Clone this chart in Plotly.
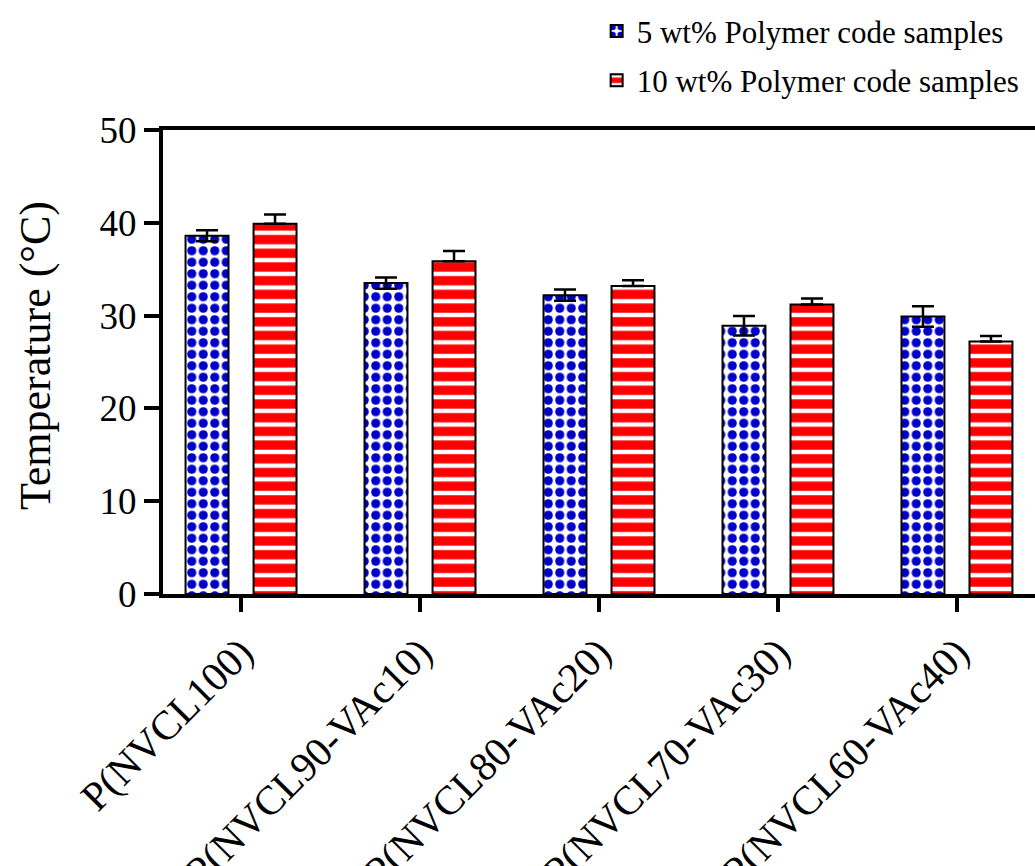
import plotly.graph_objects as go

categories = ["P(NVCL100)", "P(NVCL90-VAc10)", "P(NVCL80-VAc20)", "P(NVCL70-VAc30)", "P(NVCL60-VAc40)"]
temp_5wt = [38.6, 33.5, 32.2, 28.9, 29.9]
err_5wt = [0.6, 0.6, 0.6, 1.05, 1.1]
temp_10wt = [39.9, 35.85, 33.2, 31.2, 27.2]
err_10wt = [1.0, 1.1, 0.6, 0.65, 0.6]
zero_minus = [0, 0, 0, 0, 0]
y_title = "Temperature (°C)"

FONT = "Liberation Serif"
BLUE = "#0000C8"
RED = "#FF0000"

fig = go.Figure()
fig.add_trace(go.Bar(
    x=categories, y=temp_5wt, name="5 wt% Polymer code samples",
    width=0.24, offset=-0.31,
    marker=dict(color="white", line=dict(color="black", width=2),
                pattern=dict(shape=".", fgcolor=BLUE, bgcolor="white", fgopacity=1,
                             fillmode="replace", size=11.5, solidity=0.5)),
    error_y=dict(type="data", array=err_5wt, color="black", thickness=2.5, width=11),
    legendgroup="a",
))
fig.add_trace(go.Bar(
    x=categories, y=temp_10wt, name="10 wt% Polymer code samples",
    width=0.24, offset=0.07,
    marker=dict(color=RED, line=dict(color="black", width=2),
                pattern=dict(shape="-", fgcolor="white", bgcolor=RED, fgopacity=1,
                             fillmode="replace", size=13.7, solidity=0.32)),
    error_y=dict(type="data", symmetric=False, array=err_10wt, arrayminus=zero_minus,
                 color="black", thickness=2.5, width=11),
    legendgroup="b",
))

fig.update_layout(
    width=1035, height=866,
    margin=dict(l=163, r=0, t=130, b=272, autoexpand=False),
    paper_bgcolor="white", plot_bgcolor="white",
    barmode="overlay",
    font=dict(family=FONT, color="black"),
    showlegend=True,
    legend=dict(xref="container", yref="container", x=0.99, xanchor="right",
                y=0.995, yanchor="top", font=dict(size=31, family=FONT),
                bgcolor="rgba(0,0,0,0)", tracegroupgap=6, traceorder="grouped"),
    xaxis=dict(
        type="category", range=[-0.436, 4.436],
        showline=True, linecolor="black", linewidth=4, mirror=True,
        ticks="outside", ticklen=14, tickwidth=4, tickcolor="black",
        tickangle=-45, tickfont=dict(size=41, family=FONT),
        showgrid=False, zeroline=False,
    ),
    yaxis=dict(
        range=[0, 50], dtick=10, tick0=0,
        showline=True, linecolor="black", linewidth=4,
        ticks="outside", ticklen=15, tickwidth=4, tickcolor="black",
        tickfont=dict(size=37, family=FONT),
        showgrid=False, zeroline=False,
    ),
    annotations=[dict(
        text=y_title, textangle=-90, showarrow=False,
        xref="paper", yref="paper", x=(35 - 163) / 872, y=(594 - 356) / 464,
        xanchor="center", yanchor="middle", font=dict(size=44, family=FONT),
    )],
)

fig.write_html("out.html")
